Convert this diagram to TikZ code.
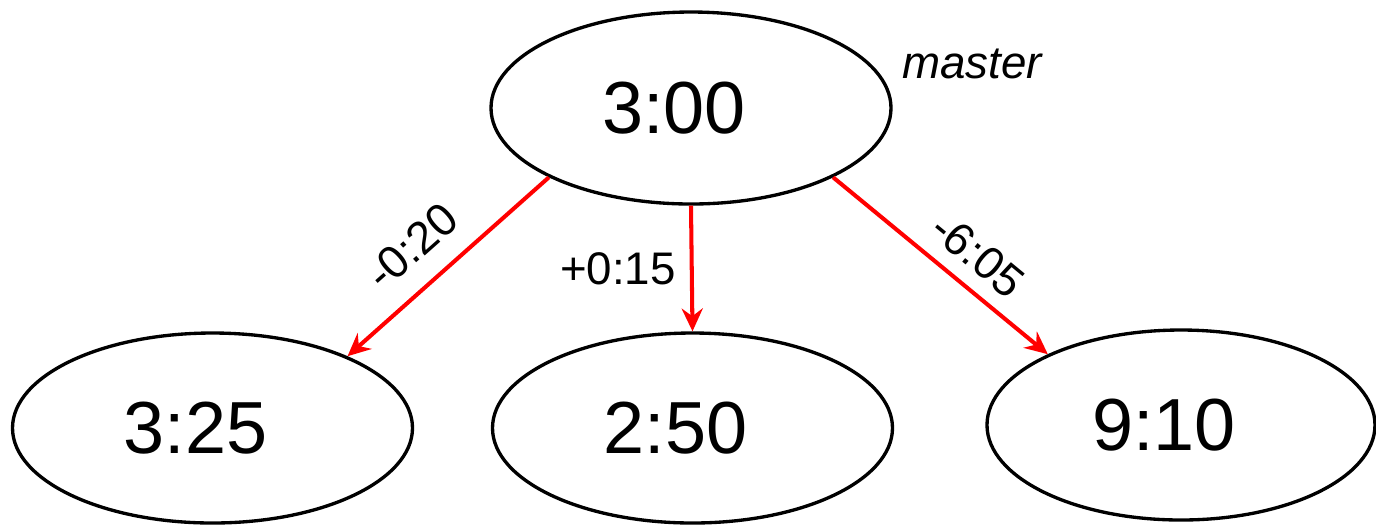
\documentclass[tikz,border=0pt]{standalone}
\usepackage{fontspec}
\setmainfont{Liberation Sans}
\usetikzlibrary{shapes.geometric, arrows.meta, positioning}

\begin{document}
\begin{tikzpicture}[>={Stealth[length=6.5pt, width=6pt, inset=2.2pt]},
    clk/.style={ellipse, draw, line width=0.95pt, minimum width=4cm, minimum height=1.9cm,
        inner sep=0pt, font=\fontsize{21}{25}\selectfont, execute at begin node=\hspace*{-0.34cm}},
    lbl/.style={font=\fontsize{13}{15}\selectfont, text=black},
    off/.style={->, red, line width=1.15pt}]
        \useasboundingbox (0,0) rectangle (13.76,-5.24);

        % Đồng hồ chủ và các máy con
        \node[clk, minimum height=1.92cm] (top) at (6.91,-1.08) {3:00};
        \node[clk] (left) at (2.125,-4.28) {3:25};
        \node[clk] (mid) at (6.925,-4.28) {2:50};
        \node[clk, minimum width=3.88cm] (right) at (11.81,-4.25) {9:10};
        \node[lbl, anchor=base west, inner sep=0pt] (mst) at ([shift={(0.09,0.30)}]top.east) {\itshape master};

        % Độ lệch gửi tới từng máy
        \draw[off] (top.206) -- (left.28) node[pos=0.55, sloped, above=6pt, lbl, inner sep=0pt] (dl) {-0:20};
        \draw[off] (top.270) -- (mid.90) node[midway, left=4pt, lbl, inner sep=0pt] (dm) {+0:15};
        \draw[off] (top.334) -- (right.152) node[pos=0.58, sloped, above=4pt, lbl, inner sep=0pt] (dr) {-6:05};
    \end{tikzpicture}
\end{document}
